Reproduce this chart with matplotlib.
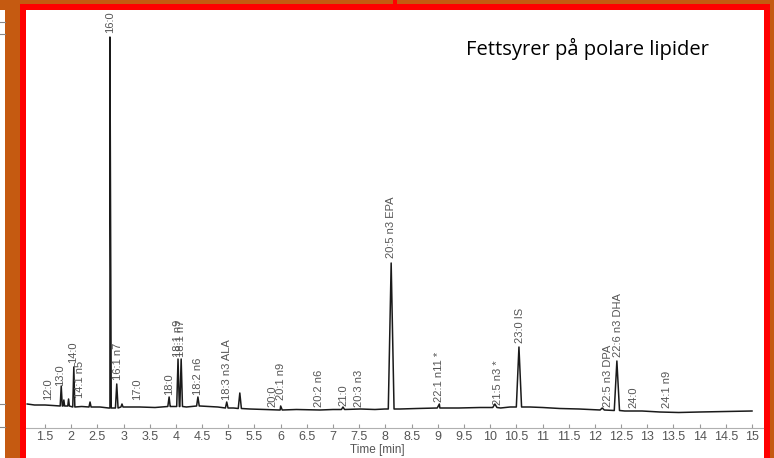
import numpy as np
import matplotlib.pyplot as plt
from matplotlib.patches import Rectangle

# baseline knots of the trace (time in min, signal)
base_t = [1.16, 1.3, 1.5, 1.65, 1.79, 2.2, 2.55, 2.74, 3.1, 3.31, 3.6, 3.89,
          4.2, 4.46, 4.8, 5.1, 5.41, 5.7, 5.99, 6.3, 6.75, 7.0, 7.52, 7.8,
          7.99, 8.28, 8.6, 9.04, 9.4, 9.81, 10.2, 10.38, 10.76, 11.0, 11.33,
          11.7, 12.1, 12.57, 12.9, 13.24, 13.6, 14.0, 14.5, 15.0]
base_y = [24, 23, 23, 22.5, 22, 21.5, 21, 20, 21, 21, 20.5, 21.5,
          21, 22, 21, 20, 19, 18.5, 18, 18.5, 18, 18.5, 19, 18.5,
          19, 19, 19.5, 20, 20, 20.5, 20, 21, 21, 20.5, 19.5,
          19, 18, 17, 17, 16, 15.5, 16, 16.5, 17]

# peaks: retention time, apex height, base level, half width
peak_t = [1.81, 1.86, 1.95, 2.05, 2.36, 2.74, 2.87, 2.97, 3.87, 4.04, 4.10,
          4.42, 4.97, 5.22, 6.00, 7.19, 8.11, 9.03, 10.09, 10.55, 12.14, 12.42]
peak_h = [42, 28, 29, 61, 26, 391, 44, 24, 31, 69, 69,
          31, 26, 35, 22, 21, 165, 24, 24, 81, 20, 67]
peak_b = [22, 22, 22, 21, 21, 20, 20, 21, 21.5, 21.5, 21.5,
          22, 20, 19.5, 18, 18.5, 19, 20, 20.5, 21, 18, 17.5]
peak_w = [0.02, 0.015, 0.015, 0.02, 0.02, 0.025, 0.025, 0.02, 0.025, 0.025, 0.025,
          0.025, 0.025, 0.03, 0.03, 0.03, 0.055, 0.04, 0.04, 0.05, 0.04, 0.05]

# peak labels: text, time, bottom of text
lab_txt = ["12:0", "13:0", "14:0", "14:1 n5", "16:0", "16:1 n7", "17:0", "18:0",
           "18:1 n9", "18:1 n7", "18:2 n6", "18:3 n3 ALA", "20:0", "20:1 n9",
           "20:2 n6", "21:0", "20:3 n3", "20:5 n3 EPA", "22:1 n11 *", "21:5 n3 *",
           "23:0 IS", "22:5 n3 DPA", "22:6 n3 DHA", "24:0", "24:1 n9"]
lab_t = [1.56, 1.79, 2.04, 2.17, 2.74, 2.89, 3.26, 3.87,
         4.04, 4.10, 4.42, 4.98, 5.85, 6.0,
         6.73, 7.19, 7.50, 8.11, 9.02, 10.15,
         10.57, 12.25, 12.44, 12.73, 13.38]
lab_y = [28, 42, 65, 30, 395, 48, 28, 33,
         71, 71, 33, 28, 21, 28,
         21, 22, 21, 170, 26, 23,
         85, 21, 71, 20, 20]

ticks = np.arange(1.5, 15.01, 0.5)
tick_labels = ["%g" % v for v in ticks]

W, H = 774, 458
fig = plt.figure(figsize=(W / 100, H / 100), dpi=100, facecolor="#C55A11")

def px_rect(x0, y0, x1, y1, color):
    fig.add_artist(Rectangle((x0 / W, 1 - y1 / H), (x1 - x0) / W, (y1 - y0) / H,
                             transform=fig.transFigure, facecolor=color,
                             edgecolor="none", zorder=0))

px_rect(0, 10, 5, 458, "white")           # slide fragment at far left
px_rect(20, 4, 770, 458, "#FF0000")       # red frame
px_rect(393, 0, 397, 10, "#FF0000")
px_rect(26, 10, 764, 458, "white")
for yy in [22, 34, 404, 427]:
    fig.add_artist(plt.Line2D([0, 5 / W], [1 - yy / H] * 2, color="#888888", lw=0.8))

# build trace from baseline knots and triangular peaks
pts = list(zip(base_t, base_y))
for t, h, b, w in zip(peak_t, peak_h, peak_b, peak_w):
    pts += [(t - w, b), (t, h), (t + w, b)]
pts.sort()
tr_t = [p[0] for p in pts]
tr_y = [p[1] for p in pts]

ax = fig.add_axes([26 / W, (H - 428) / H, 737 / W, 418 / H])
ax.set_facecolor("none")
ax.plot(tr_t, tr_y, color="#1a1a1a", lw=1.1)

for s, t, y in zip(lab_txt, lab_t, lab_y):
    ax.text(t, y, s, rotation=90, ha="center", va="bottom", fontsize=8,
            color="#555555", family="Liberation Sans")

x0 = 1.5 - 19 / 52.37
ax.set_xlim(x0, x0 + 737 / 52.37)
ax.set_ylim(0, 418)
for sp in ["left", "right", "top"]:
    ax.spines[sp].set_visible(False)
ax.spines["bottom"].set_color("#b0b0b0")
ax.set_yticks([])
ax.set_xticks(ticks)
ax.set_xticklabels(tick_labels, family="Liberation Sans", fontsize=9, color="#555555")
ax.tick_params(axis="x", direction="in", length=3, color="#999999", pad=2.5)
ax.set_xlabel("Time [min]", family="Liberation Sans", fontsize=8.5, color="#555555")
ax.xaxis.set_label_coords((377 - 26) / 737, -0.038)

fig.text(466 / W, 1 - 49 / H, "Fettsyrer på polare lipider", fontsize=14.5,
         family="Open Sans", color="black", va="center", ha="left")

fig.savefig("out.png", dpi=100, facecolor=fig.get_facecolor())
